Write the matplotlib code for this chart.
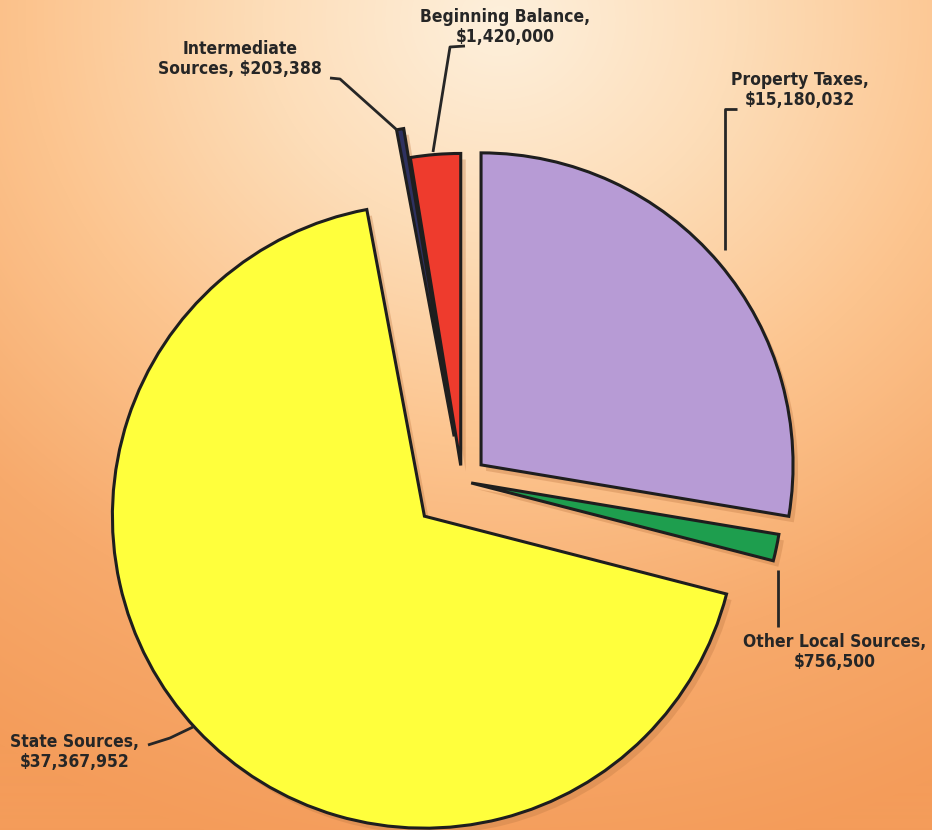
import numpy as np
import matplotlib.pyplot as plt
from matplotlib.colors import LinearSegmentedColormap

# ───────────────────────────────────────────────────────
# 1. 데이터
labels = ["Property Taxes", "Other Local Sources", "State Sources",
          "Intermediate Sources", "Beginning Balance"]
values = [15180032, 756500, 37367952, 203388, 1420000]
colors = ["#B79BD5", "#1E9E4E", "#FFFF3C", "#2E3160", "#EE3B2D"]
explode_frac = [0.08, 0.03, 0.165, 0.145, 0.05]

label_text = ["Property Taxes,\n$15,180,032",
              "Other Local Sources,\n$756,500",
              "State Sources,\n$37,367,952",
              "Intermediate\nSources, $203,388",
              "Beginning Balance,\n$1,420,000"]

W, H = 932, 830
fig = plt.figure(figsize=(W / 100, H / 100), dpi=100)
ax = fig.add_axes([0, 0, 1, 1])

# ───────────────────────────────────────────────────────
# 2. 배경 그라데이션
yy, xx = np.mgrid[0:H, 0:W]
d = np.hypot((xx - 500) / 1.0, (yy - 20) / 0.9) / 950
d = np.clip(d, 0, 1)
bg_cmap = LinearSegmentedColormap.from_list(
    "bg", ["#FDF0DC", "#FDDDB8", "#FCC48E", "#F7AA6C", "#F49C5A"])
ax.imshow(d, cmap=bg_cmap, extent=[0, W, 0, H], origin="upper",
          vmin=0, vmax=1, zorder=0, aspect="auto")

# ───────────────────────────────────────────────────────
# 3. 파이 차트 (explode 는 데이터 단위)
cx, cy, r = 462, H - 481, 312
explode = [e * r for e in explode_frac]
wedges, _ = ax.pie(values, explode=explode, colors=colors, startangle=90,
                   counterclock=False, radius=r, center=(cx, cy), frame=True,
                   wedgeprops=dict(edgecolor="#1E1E1E", linewidth=2.2))
for w in wedges:
    w.set_zorder(3)

# 그림자
shadows, _ = ax.pie(values, explode=explode, colors=["#C07A45"] * 5, startangle=90,
                    counterclock=False, radius=r, center=(cx + 5, cy - 6), frame=True,
                    wedgeprops=dict(linewidth=0, alpha=0.35))
for s in shadows:
    s.set_zorder(2)

# ───────────────────────────────────────────────────────
# 4. 라벨 및 지시선
font = dict(fontsize=12.5, fontweight="bold", color="#262626",
            family="DejaVu Sans", stretch="condensed", linespacing=1.15)
text_pos = [(800, 90), (835, 652), (75, 752), (240, 59), (505, 27)]
leaders = [
    [(737, 109), (725, 109), (725, 250)],
    [(778, 570), (778, 627)],
    [(148, 745), (170, 738), (193, 727)],
    [(330, 78), (340, 79), (397, 130)],
    [(465, 46), (450, 47), (433, 152)],
]
for (tx, ty), txt in zip(text_pos, label_text):
    ax.text(tx, H - ty, txt, ha="center", va="center", zorder=5, **font)
for pts in leaders:
    xs = [p[0] for p in pts]
    ys = [H - p[1] for p in pts]
    ax.plot(xs, ys, color="#262626", lw=2, zorder=4, solid_capstyle="butt")

ax.set_xlim(0, W)
ax.set_ylim(0, H)
ax.set_aspect("auto")
ax.axis("off")

fig.savefig("out.png", dpi=100)
